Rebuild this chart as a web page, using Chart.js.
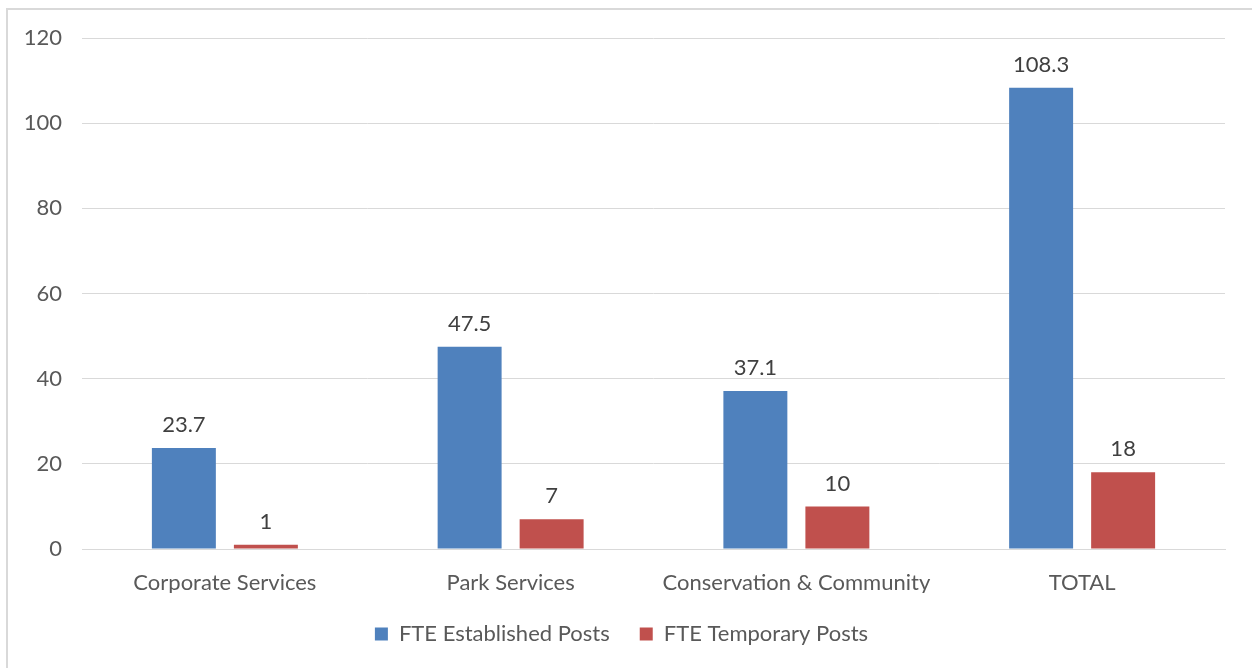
<!DOCTYPE html>
<html>
<head>
<meta charset="utf-8">
<script src="https://cdn.jsdelivr.net/npm/chart.js@4/dist/chart.umd.min.js"></script>
<style>
  html, body { margin: 0; padding: 0; background: #fff; overflow: hidden; }
  #frame { position: absolute; left: 6px; top: 8px; width: 1270px; height: 690px; border: 2px solid #D9D9D9; box-sizing: border-box; }
  #wrap { position: absolute; left: 0; top: 0; width: 1252px; height: 668px; }
</style>
</head>
<body>
<div id="frame"></div>
<div id="wrap"><canvas id="grafica"></canvas></div>
<script>
// datos del grafico
var categorias = ["Corporate Services", "Park Services", "Conservation & Community", "TOTAL"];
var establecidos = [23.7, 47.5, 37.1, 108.3];
var temporales = [1, 7, 10, 18];
var etiquetasY = [0, 20, 40, 60, 80, 100, 120];

var fuente = "Lato, 'Open Sans', sans-serif";

// plugin para escribir el valor encima de cada barra
var etiquetasBarras = {
  id: "etiquetasBarras",
  afterDatasetsDraw: function (chart) {
    var ctx = chart.ctx;
    ctx.save();
    ctx.fillStyle = "#404040";
    ctx.font = "22px " + fuente;
    ctx.textAlign = "center";
    ctx.textBaseline = "bottom";
    chart.data.datasets.forEach(function (ds, i) {
      chart.getDatasetMeta(i).data.forEach(function (bar, j) {
        ctx.fillText(String(ds.data[j]), bar.x, bar.y - 12);
      });
    });
    ctx.restore();
  }
};

Chart.defaults.font.family = fuente;
Chart.defaults.color = "#595959";

var ctx = document.getElementById("grafica").getContext("2d");
var grafica = new Chart(ctx, {
  type: "bar",
  data: {
    labels: categorias,
    datasets: [{
      label: "FTE Established Posts",
      data: establecidos,
      backgroundColor: "#4F81BD"
    }, {
      label: "FTE Temporary Posts",
      data: temporales,
      backgroundColor: "#C0504D"
    }]
  },
  options: {
    responsive: true,
    maintainAspectRatio: false,
    animation: false,
    categoryPercentage: 0.574,
    barPercentage: 0.78,
    layout: { padding: { left: 18, right: 27, top: 38, bottom: 13 } },
    plugins: {
      tooltip: { enabled: false },
      legend: {
        position: "bottom",
        labels: {
          boxWidth: 13,
          boxHeight: 13,
          padding: 30,
          color: "#595959",
          font: { size: 22 }
        }
      }
    },
    scales: {
      x: {
        grid: { display: false, drawTicks: false },
        border: { color: "#D9D9D9", width: 1 },
        ticks: { padding: 21, font: { size: 22 }, color: "#595959" },
        afterFit: function (s) { s.height = 44; }
      },
      y: {
        min: 0,
        max: 120,
        afterBuildTicks: function (s) { s.ticks = etiquetasY.map(function (v) { return { value: v }; }); },
        grid: { color: "#D9D9D9", drawTicks: false },
        border: { display: false },
        ticks: { padding: 20, font: { size: 22 }, color: "#595959" },
        afterFit: function (s) { s.width = 64; }
      }
    }
  },
  plugins: [etiquetasBarras]
});
</script>
</body>
</html>
